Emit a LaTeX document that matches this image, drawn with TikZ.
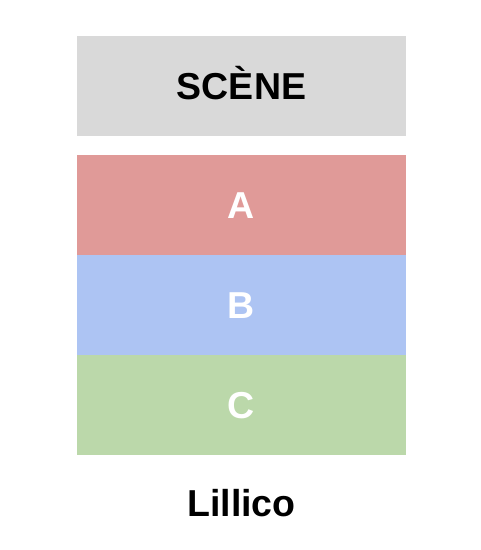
\documentclass[tikz,border=0pt]{standalone}
\usepackage{fontspec}
\setmainfont{Liberation Sans}
\usetikzlibrary{positioning}
\definecolor{scenegray}{HTML}{D9D9D9}
\definecolor{zonea}{HTML}{E09A98}
\definecolor{zoneb}{HTML}{ADC4F3}
\definecolor{zonec}{HTML}{BBD8AA}
\newcommand{\bigbold}{\bfseries\fontsize{37.5bp}{37.5bp}\selectfont}
\tikzset{
	zone/.style={minimum width=329bp, minimum height=100bp, inner sep=0pt,
		text height=27bp, text depth=0pt, text=white, font=\bigbold},
}

\begin{document}
\begin{tikzpicture}[x=1bp,y=-1bp]
	\useasboundingbox (0,0) rectangle (481,550);
	\node[zone, fill=scenegray, text=black] (scene) at (241.5,86) {SCÈNE};
	\node[zone, fill=zonea, below=19bp of scene] (A) {A};
	% slight overlap hides the seam between the rows
	\node[zone, fill=zoneb, below=-0.6bp of A] (B) {B};
	\node[zone, fill=zonec, below=-0.6bp of B] (C) {C};
	\node[font=\bigbold, anchor=base] (venue) at ([yshift=-61bp]C.south) {Lillico};
\end{tikzpicture}
\end{document}
